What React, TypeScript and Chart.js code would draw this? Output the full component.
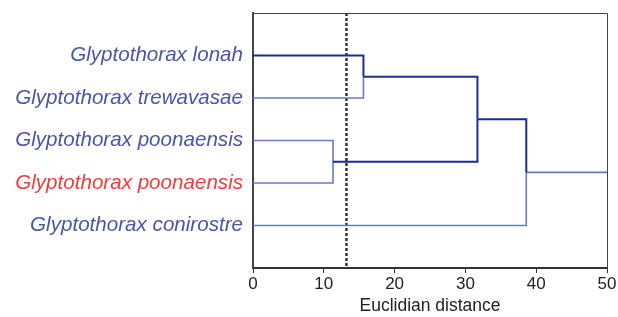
import React, { useEffect, useRef } from "react";
import { Chart, registerables } from "chart.js";

Chart.register(...registerables);

const leafNames = [
  "Glyptothorax lonah",
  "Glyptothorax trewavasae",
  "Glyptothorax poonaensis",
  "Glyptothorax poonaensis",
  "Glyptothorax conirostre",
];
const leafLabelColors = ["#4a55a8", "#4a55a8", "#4a55a8", "#f03c3c", "#4a55a8"];
// merges: [childA, childB, height]; leaves are nodes 0..4, merges become nodes 5..8
const mergeChildrenA = [0, 2, 5, 7];
const mergeChildrenB = [1, 3, 6, 4];
const mergeHeights = [15.6, 11.3, 31.7, 38.6];
// node emphasis (dark) for nodes 0..8
const nodeDark = [true, false, false, false, false, true, true, true, false];
const cutoffDistance = 13.2;
const xTicks = [0, 10, 20, 30, 40, 50];
const xMax = 50;

const DARK = "#1c2c96";
const LIGHT = "#6b78c6";
const FONT = "'Liberation Sans', Arial, sans-serif";

function buildSegments() {
  const ys: number[] = leafNames.map((_, i) => i + 1);
  const hs: number[] = leafNames.map(() => 0);
  mergeHeights.forEach((h, i) => {
    const a = mergeChildrenA[i];
    const b = mergeChildrenB[i];
    ys.push((ys[a] + ys[b]) / 2);
    hs.push(h);
  });
  const parentH: number[] = ys.map(() => xMax);
  mergeHeights.forEach((h, i) => {
    parentH[mergeChildrenA[i]] = h;
    parentH[mergeChildrenB[i]] = h;
  });
  const segs: { pts: { x: number; y: number }[]; dark: boolean }[] = [];
  ys.forEach((y, n) => {
    const dark = nodeDark[n];
    const pts = [
      { x: hs[n], y },
      { x: parentH[n], y },
    ];
    const mi = mergeChildrenA.indexOf(n) >= 0 ? mergeChildrenA.indexOf(n) : mergeChildrenB.indexOf(n);
    if (mi >= 0) pts.push({ x: parentH[n], y: ys[leafNames.length + mi] });
    segs.push({ pts, dark });
  });
  return segs;
}

const framePlugin = {
  id: "frame",
  afterDatasetsDraw(chart: any) {
    const { ctx, chartArea } = chart;
    ctx.save();
    ctx.strokeStyle = "#444";
    ctx.lineWidth = 1;
    ctx.beginPath();
    ctx.moveTo(chartArea.left, chartArea.top + 0.5);
    ctx.lineTo(chartArea.right + 0.5, chartArea.top + 0.5);
    ctx.lineTo(chartArea.right + 0.5, chartArea.bottom);
    ctx.stroke();
    ctx.restore();
  },
};

export default function App() {
  const ref = useRef<HTMLCanvasElement>(null);
  useEffect(() => {
    if (!ref.current) return;
    const segs = buildSegments();
    const datasets: any[] = segs.map((s) => ({
      data: s.pts,
      borderColor: s.dark ? DARK : LIGHT,
      borderWidth: s.dark ? 2 : 1.6,
      pointRadius: 0,
      fill: false,
      tension: 0,
      order: s.dark ? 0 : 1,
    }));
    datasets.push({
      data: [
        { x: cutoffDistance, y: 0 },
        { x: cutoffDistance, y: 6 },
      ],
      borderColor: "#333",
      borderWidth: 2.5,
      borderDash: [3, 2],
      pointRadius: 0,
      fill: false,
      order: 2,
    });
    const chart = new Chart(ref.current, {
      type: "line",
      data: { datasets },
      plugins: [framePlugin],
      options: {
        responsive: false,
        animation: false,
        layout: { padding: { left: 0, right: 11, top: 13, bottom: 0 } },
        plugins: { legend: { display: false }, tooltip: { enabled: false } },
        scales: {
          x: {
            type: "linear",
            min: 0,
            max: xMax,
            afterBuildTicks: (s: any) => {
              s.ticks = xTicks.map((v) => ({ value: v }));
            },
            afterFit: (s: any) => {
              s.height = 49;
            },
            grid: { display: true, drawOnChartArea: false, drawTicks: true, tickLength: 5, color: "#333", lineWidth: 1 },
            border: { display: true, color: "#333", width: 2 },
            ticks: { color: "#222", font: { family: FONT, size: 17 }, padding: 1, maxRotation: 0 },
            title: { display: true, text: "Euclidian distance", color: "#222", font: { family: FONT, size: 17.5 }, padding: { top: 3, bottom: 0 } },
          },
          y: {
            type: "linear",
            min: 0,
            max: 6,
            reverse: true,
            afterBuildTicks: (s: any) => {
              s.ticks = leafNames.map((_, i) => ({ value: i + 1 }));
            },
            afterFit: (s: any) => {
              s.width = 253;
              s.paddingTop = 0;
              s.paddingBottom = 0;
            },
            grid: { display: false, drawTicks: false },
            border: { display: true, color: "#444", width: 2 },
            ticks: {
              padding: 10,
              font: { family: FONT, size: 20.6, style: "italic" },
              color: (c: any) => leafLabelColors[c.index] ?? "#4a55a8",
              callback: (v: any) => leafNames[Number(v) - 1] ?? "",
            },
          },
        },
      },
    });
    return () => chart.destroy();
  }, []);
  return (
    <div style={{ position: "fixed", left: 0, top: 0, width: 618, height: 317, background: "#fff" }}>
      <canvas ref={ref} width={618} height={317} />
    </div>
  );
}
